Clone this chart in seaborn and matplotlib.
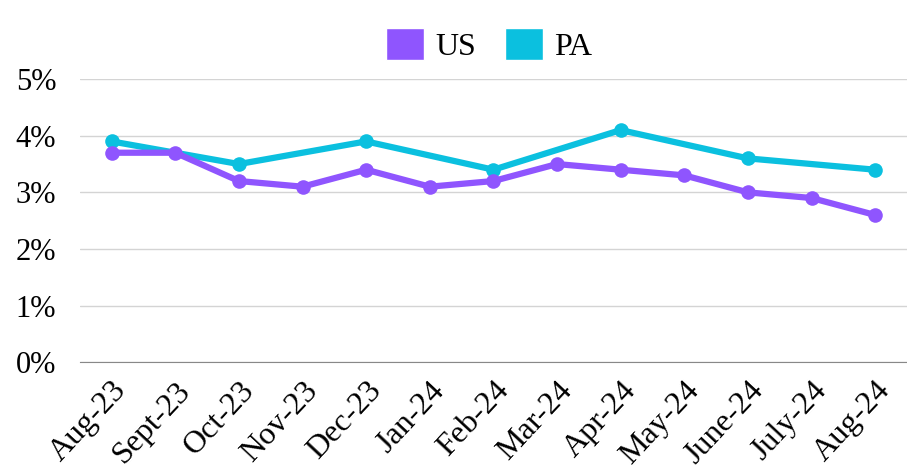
import matplotlib.pyplot as plt
import matplotlib.ticker as mticker
from matplotlib.patches import Patch
import numpy as np
import pandas as pd
import seaborn as sns

months = ["Aug-23", "Sept-23", "Oct-23", "Nov-23", "Dec-23", "Jan-24", "Feb-24",
          "Mar-24", "Apr-24", "May-24", "June-24", "July-24", "Aug-24"]
us = [3.7, 3.7, 3.2, 3.1, 3.4, 3.1, 3.2, 3.5, 3.4, 3.3, 3.0, 2.9, 2.6]
pa = [3.9, np.nan, 3.5, np.nan, 3.9, np.nan, 3.4, np.nan, 4.1, np.nan, 3.6, np.nan, 3.4]

colors = {"US": "#8F55FE", "PA": "#0BC0DF"}

df = pd.concat([
    pd.DataFrame({"pos": range(len(months)), "value": pa, "series": "PA"}),
    pd.DataFrame({"pos": range(len(months)), "value": us, "series": "US"}),
]).dropna()

sns.set_style("white")
plt.rcParams['font.family'] = ['Liberation Serif', 'DejaVu Serif']
plt.rcParams['text.color'] = 'black'
plt.rcParams['xtick.color'] = 'black'
plt.rcParams['ytick.color'] = 'black'

fig = plt.figure(figsize=(9.07, 4.71), dpi=100)
ax = fig.add_axes([0.088, 0.231, 0.912, 0.601])

sns.lineplot(data=df, x="pos", y="value", hue="series", palette=colors,
             marker="o", markersize=10.5, markeredgewidth=0, linewidth=4.5,
             sort=False, estimator=None, legend=False, ax=ax)

ax.set_xlim(-0.5, len(months) - 0.5)
ax.set_ylim(0, 5)
ax.set_xticks(range(len(months)))
ax.set_xticklabels(months, rotation=47, ha="right", rotation_mode="anchor",
                   fontsize=23)
ax.yaxis.set_major_locator(mticker.MultipleLocator(1))
ax.yaxis.set_major_formatter(mticker.FuncFormatter(lambda v, p: f"{v:.0f}%"))
ax.tick_params(axis="y", labelsize=22, length=0, pad=17)
ax.tick_params(axis="x", length=0, pad=10)
ax.grid(axis="y", color="#d4d4d4", linewidth=1)
ax.set_axisbelow(True)
for s in ["top", "right", "left"]:
    ax.spines[s].set_visible(False)
ax.spines["bottom"].set_color("#888888")
ax.set_xlabel(None)
ax.set_ylabel(None)

handles = [Patch(facecolor=colors["US"], label="US"),
           Patch(facecolor=colors["PA"], label="PA")]
fig.legend(handles=handles, loc="center", bbox_to_anchor=(0.539, 0.905), ncol=2,
           frameon=False, fontsize=23, handlelength=1.2, handleheight=1.2,
           handletextpad=0.35, columnspacing=0.9)

fig.savefig("out.png", dpi=100)
